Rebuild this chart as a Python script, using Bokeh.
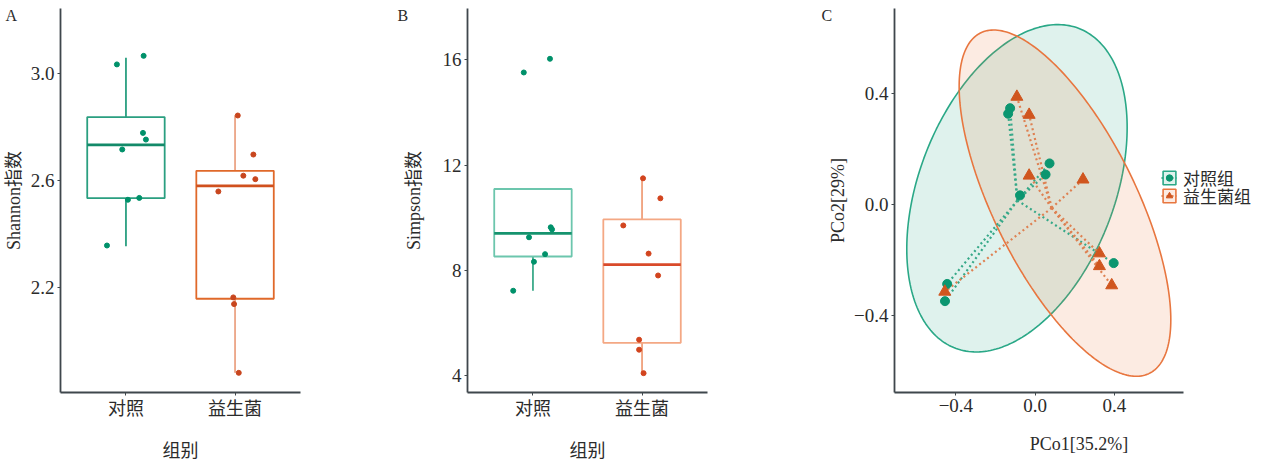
import numpy as np
from bokeh.plotting import figure
from bokeh.layouts import row
from bokeh.models import (FixedTicker, Legend, LegendItem, Range1d,
                          PrintfTickFormatter)
from bokeh.embed import file_html
from bokeh.resources import INLINE

# ---------------- data ----------------
groups = ["对照", "益生菌"]
legend_labels = ["对照组", "益生菌组"]

# Panel A: Shannon index (points and horizontal jitter)
shannon_ctrl = [3.034, 3.066, 2.778, 2.753, 2.716, 2.528, 2.535, 2.357]
shannon_ctrl_jit = [-0.083, 0.162, 0.156, 0.183, -0.034, 0.018, 0.122, -0.174]
shannon_trt = [2.843, 2.697, 2.618, 2.605, 2.559, 2.163, 2.138, 1.881]
shannon_trt_jit = [0.025, 0.168, 0.076, 0.186, -0.153, -0.016, -0.009, 0.034]
# box statistics: lower whisker, Q1, median, Q3, upper whisker
shannon_box_ctrl = [2.354, 2.534, 2.733, 2.837, 3.059]
shannon_box_trt = [1.881, 2.158, 2.580, 2.636, 2.843]
shannon_ticks = [2.2, 2.6, 3.0]

# Panel B: Simpson index
simpson_ctrl = [15.52, 16.04, 9.64, 9.56, 9.26, 8.62, 8.33, 7.23]
simpson_ctrl_jit = [-0.084, 0.156, 0.163, 0.175, -0.036, 0.111, 0.009, -0.181]
simpson_trt = [11.50, 10.74, 9.71, 8.64, 7.81, 5.37, 4.99, 4.10]
simpson_trt_jit = [0.009, 0.168, -0.172, 0.060, 0.147, -0.027, -0.027, 0.014]
simpson_box_ctrl = [7.23, 8.53, 9.41, 11.095, 11.095]
simpson_box_trt = [4.10, 5.25, 8.22, 9.94, 11.50]
simpson_ticks = [4, 8, 12, 16]

# Panel C: PCoA
pco1_ctrl = [-0.126, -0.136, 0.073, 0.053, -0.076, 0.397, -0.444, -0.455]
pco2_ctrl = [0.347, 0.327, 0.148, 0.108, 0.033, -0.211, -0.286, -0.348]
pco1_trt = [-0.092, -0.030, -0.030, 0.242, 0.325, 0.325, 0.387, -0.456]
pco2_trt = [0.388, 0.323, 0.104, 0.090, -0.176, -0.222, -0.291, -0.314]
# confidence ellipses: centre x, centre y, shape matrix entries a, b, c
# (x = cx + a*cos t ; y = cy + b*cos t + c*sin t)
ell_ctrl = [-0.0915, 0.0585, 0.5565, 0.2187, 0.5474]
ell_trt = [0.151, 0.005, 0.5345, -0.42, 0.4609]
pco_ticks = [-0.4, 0.0, 0.4]
pco_tick_labels = ["\u22120.4", "0.0", "0.4"]

# ---------------- styling ----------------
SERIF = "Liberation Serif, Noto Sans CJK SC"
TXT = "#2b2b2b"
AXIS = "#3f474c"
FRAME_H = 384


def base_fig(bl, br, xr, yr, letter, letter_dx, frame_w=240):
    p = figure(frame_width=frame_w, frame_height=FRAME_H,
               min_border_left=bl, min_border_right=br,
               min_border_top=8, min_border_bottom=60,
               x_range=xr, y_range=yr, title=letter,
               output_backend="svg", toolbar_location=None)
    p.title.align = "left"
    p.title.offset = letter_dx
    p.title.standoff = -31
    p.title.text_font = SERIF
    p.title.text_font_size = "16px"
    p.title.text_font_style = "normal"
    p.title.text_color = TXT
    p.grid.visible = False
    p.outline_line_color = None
    p.background_fill_color = "white"
    p.border_fill_color = "white"
    for ax in (p.xaxis[0], p.yaxis[0]):
        ax.axis_line_color = AXIS
        ax.axis_line_width = 1.8
        ax.major_tick_line_color = AXIS
        ax.major_tick_out = 3
        ax.major_tick_in = 0
        ax.minor_tick_line_color = None
        ax.major_label_text_font = SERIF
        ax.major_label_text_color = TXT
        ax.axis_label_text_font = SERIF
        ax.axis_label_text_font_style = "normal"
        ax.axis_label_text_color = TXT
        ax.axis_label_text_font_size = "18px"
    p.xaxis.major_label_text_font_size = "18px"
    p.yaxis.major_label_text_font_size = "19px"
    p.xaxis.major_label_standoff = 3
    p.xaxis.axis_label_standoff = 19
    p.yaxis.major_label_standoff = 3
    return p


def draw_box(p, xc, stats, box_col, med_col, wh_col, w=0.71):
    lo, q1, med, q3, hi = stats
    p.segment(x0=[xc, xc], y0=[q3, q1], x1=[xc, xc], y1=[hi, lo],
              line_color=wh_col, line_width=1.8)
    p.quad(left=[xc - w / 2], right=[xc + w / 2], bottom=[q1], top=[q3],
           fill_color=None, line_color=box_col, line_width=1.8)
    p.segment(x0=[xc - w / 2], y0=[med], x1=[xc + w / 2], y1=[med],
              line_color=med_col, line_width=2.8)


def box_panel(bl, br, yr, ticks, fmt, ylabel, letter, letter_dx,
              vals_c, jit_c, box_c, vals_t, jit_t, box_t, cols):
    p = base_fig(bl, br, Range1d(0.4, 2.6), yr, letter, letter_dx)
    p.xaxis.ticker = FixedTicker(ticks=[1, 2])
    p.xaxis.major_label_overrides = {1: groups[0], 2: groups[1]}
    p.xaxis.axis_label = "组别"
    p.yaxis.ticker = FixedTicker(ticks=ticks)
    p.yaxis.formatter = PrintfTickFormatter(format=fmt)
    p.yaxis.axis_label = ylabel
    (bc, mc, wc, pc), (bt, mt, wt, pt) = cols
    draw_box(p, 1, box_c, bc, mc, wc)
    draw_box(p, 2, box_t, bt, mt, wt)
    p.scatter(x=[1 + j for j in jit_c], y=vals_c, size=5, color=pc)
    p.scatter(x=[2 + j for j in jit_t], y=vals_t, size=5, color=pt)
    return p


pA = box_panel(55, 77, Range1d(1.8075, 3.243), shannon_ticks, "%.1f",
               "Shannon指数", "A", -55,
               shannon_ctrl, shannon_ctrl_jit, shannon_box_ctrl,
               shannon_trt, shannon_trt_jit, shannon_box_trt,
               (("#2a9f80", "#138a69", "#2a9f80", "#00916a"),
                ("#e0692a", "#d0501e", "#eba486", "#c8461e")))
pA.yaxis.axis_label_standoff = 4

pB = box_panel(90, 110, Range1d(3.365, 17.95), simpson_ticks, "%d",
               "Simpson指数", "B", -70,
               simpson_ctrl, simpson_ctrl_jit, simpson_box_ctrl,
               simpson_trt, simpson_trt_jit, simpson_box_trt,
               (("#6cc6ad", "#16936e", "#3caa8a", "#00916a"),
                ("#f4a884", "#d94a2a", "#f0a07b", "#d2441e")))
pB.yaxis.axis_label_standoff = 16

# ---------------- Panel C ----------------
# frame extended to the right so the legend sits inside it; axis line bounded
C_PX_PER_UNIT = 198.0
C_FRAME_W = 369
c_xmin, c_axis_xmax = -0.710, 0.750
pC = base_fig(77, 2, Range1d(c_xmin, c_xmin + C_FRAME_W / C_PX_PER_UNIT),
              Range1d(-0.677, 0.706), "C", -73, frame_w=C_FRAME_W)
pC.xaxis.bounds = (c_xmin, c_axis_xmax)
pC.xaxis.ticker = FixedTicker(ticks=pco_ticks)
pC.yaxis.ticker = FixedTicker(ticks=pco_ticks)
pC.xaxis.major_label_overrides = dict(zip(pco_ticks, pco_tick_labels))
pC.yaxis.major_label_overrides = dict(zip(pco_ticks, pco_tick_labels))
pC.xaxis.major_label_text_font_size = "19px"
pC.xaxis.axis_label = "PCo1[35.2%]"
pC.yaxis.axis_label = "PCo2[29%]"
pC.yaxis.axis_label_standoff = 3

t = np.linspace(0, 2 * np.pi, 240)
specs = [
    (pco1_ctrl, pco2_ctrl, ell_ctrl, "#2aa887", "#2aa887", "#35a888", "#0b9670", "circle", 9),
    (pco1_trt, pco2_trt, ell_trt, "#e8763f", "#e8763f", "#de8152", "#d0561f", "triangle", 12),
]
patches, spiders, pts = [], [], []
for (px, py, ell, fill, edge, lcol, pcol, marker, size) in specs:
    cx, cy, a, b, c = ell
    ex = cx + a * np.cos(t)
    ey = cy + b * np.cos(t) + c * np.sin(t)
    patches.append(pC.patch(ex, ey, fill_color=fill, fill_alpha=0.15,
                            line_color=edge, line_width=1.6))
for (px, py, ell, fill, edge, lcol, pcol, marker, size) in specs:
    mx, my = float(np.mean(px)), float(np.mean(py))
    spiders.append(pC.segment(x0=[mx] * len(px), y0=[my] * len(py), x1=px, y1=py,
                              line_color=lcol, line_width=2.2, line_dash="2 3"))
for (px, py, ell, fill, edge, lcol, pcol, marker, size) in specs:
    pts.append(pC.scatter(px, py, marker=marker, size=size, color=pcol))

# one legend per item so the two keys can sit directly on top of each other
for i, ly in enumerate([202, 184]):
    lg = Legend(items=[LegendItem(label=legend_labels[i],
                                  renderers=[patches[i], spiders[i], pts[i]])],
                location=(267, ly))
    lg.padding = 0
    lg.margin = 0
    lg.spacing = 0
    lg.glyph_width = 16
    lg.glyph_height = 17
    lg.label_height = 16
    lg.label_standoff = 6
    lg.label_text_font = SERIF
    lg.label_text_font_size = "17px"
    lg.label_text_color = TXT
    lg.border_line_color = None
    lg.background_fill_alpha = 0
    pC.add_layout(lg)

layout = row(pA, pB, pC)
open("out.html", "w").write(file_html(layout, INLINE))
